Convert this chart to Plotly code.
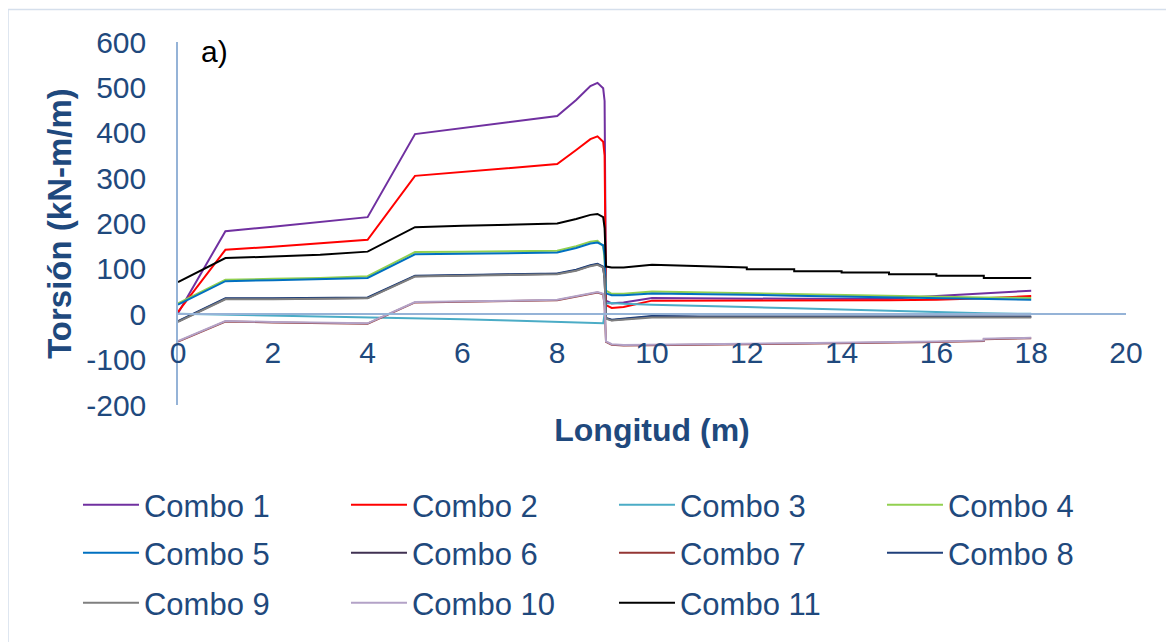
import plotly.graph_objects as go

# Longitud (m) sample positions (duplicates = jumps at supports)
X = [0, 1, 2, 3, 4, 5, 6, 7, 8, 8.4, 8.7, 8.85, 8.97, 9.0, 9.03, 9.15, 9.4, 10, 11,
     12, 12, 13, 13, 14, 14, 15, 15, 16, 16, 17, 17, 18]

combo1 = [2, 183, 193, 203, 214, 397, 410, 423, 437, 472, 503, 510, 498, 470, 30, 24, 26, 36, 35,
          35, 35, 34, 34, 34, 34, 34, 34, 40, 40, 46, 46, 52]
combo2 = [5, 142, 149, 156, 164, 305, 314, 322, 331, 362, 386, 392, 380, 350, 20, 14, 16, 30, 30,
          30, 30, 30, 30, 30, 30, 31, 31, 32, 32, 35, 35, 40]
combo3 = [1, -1, -2, -4, -6, -8, -11, -14, -17, -19, -20, -21, -20, 0, 24, 25, 23, 21, 19,
          16, 16, 13, 13, 10, 10, 7, 7, 4, 4, 2, 2, 1]
combo4 = [24, 76, 78, 80, 84, 137, 138, 139, 140, 150, 160, 162, 150, 120, 52, 45, 45, 50, 48,
          46, 46, 44, 44, 42, 42, 40, 40, 38, 38, 37, 37, 36]
combo5 = [21, 73, 75, 77, 80, 132, 133, 135, 136, 146, 156, 158, 152, 130, 46, 42, 42, 46, 45,
          43, 43, 41, 41, 39, 39, 37, 37, 35, 35, 34, 34, 32]
combo6 = [-16, 34, 34, 35, 36, 84, 86, 87, 89, 97, 107, 110, 104, 79, -9, -13, -11, -5, -6,
          -6, -6, -6, -6, -6, -6, -6, -6, -6, -6, -6, -6, -6]
combo7 = [-60, -16, -18, -20, -21, 26, 27, 29, 31, 39, 46, 48, 44, 19, -61, -67, -69, -68, -67,
          -66, -66, -65, -65, -64, -64, -62, -62, -61, -61, -59, -55, -53]
combo8 = [-15, 35, 35, 36, 37, 85, 87, 88, 90, 98, 108, 111, 105, 80, -8, -12, -10, -4, -5,
          -5, -5, -5, -5, -5, -5, -5, -5, -5, -5, -5, -5, -5]
combo9 = [-17, 33, 33, 34, 35, 83, 85, 86, 88, 96, 106, 109, 103, 78, -10, -14, -12, -7, -7,
          -7, -7, -7, -7, -7, -7, -7, -7, -7, -7, -7, -7, -7]
combo10 = [-59, -15, -17, -19, -20, 27, 28, 30, 32, 40, 47, 49, 45, 20, -60, -66, -68, -67, -66,
           -65, -65, -64, -64, -63, -63, -61, -61, -60, -60, -58, -54, -52]
combo11 = [71, 124, 127, 131, 138, 192, 195, 197, 200, 210, 219, 221, 214, 190, 105, 103, 103, 109, 106,
           103, 99, 99, 95, 95, 92, 92, 88, 88, 85, 85, 80, 80]

names = ["Combo 1", "Combo 2", "Combo 3", "Combo 4", "Combo 5", "Combo 6",
         "Combo 7", "Combo 8", "Combo 9", "Combo 10", "Combo 11"]
series = [combo1, combo2, combo3, combo4, combo5, combo6, combo7, combo8, combo9, combo10, combo11]
colors = ["#7030A0", "#FF0000", "#4BACC6", "#92D050", "#0070C0", "#403152",
          "#943634", "#1F3F7A", "#7F7F7F", "#B3A2C7", "#000000"]

y_ticks = [-200, -100, 0, 100, 200, 300, 400, 500, 600]
y_labels = ["-200", "-100", "0", "100", "200", "300", "400", "500", "600"]
x_ticks = [0, 2, 4, 6, 8, 10, 12, 14, 16, 18, 20]

TXT = "#1F497D"
FONT = "Arial, Liberation Sans, sans-serif"
AXIS = "#95B3D7"
BORDER = "#D5DFEC"

legend_rows = ["legend", "legend2", "legend3"]
legend_y = [-0.2755, -0.4077, -0.5455]  # row centres, paper units below the plot

fig = go.Figure()
for i, (n, s, c) in enumerate(zip(names, series, colors)):
    fig.add_trace(go.Scatter(x=X, y=s, name=n, mode="lines",
                             line=dict(color=c, width=2),
                             legend=legend_rows[i // 4]))

legend_common = dict(orientation="h", xref="paper", yref="paper",
                     xanchor="left", yanchor="middle", x=-0.1055,
                     entrywidth=197, entrywidthmode="pixels",
                     font=dict(size=31, color=TXT, family=FONT),
                     itemwidth=56, traceorder="normal", bgcolor="rgba(0,0,0,0)")

layout_legends = {}
for key, ly in zip(legend_rows, legend_y):
    d = dict(legend_common)
    d["y"] = ly
    layout_legends[key] = d

fig.update_layout(
    width=1166, height=634, autosize=False,
    paper_bgcolor="white", plot_bgcolor="white",
    margin=dict(l=170, r=48, t=34, b=237, autoexpand=False),
    font=dict(family=FONT, color=TXT, size=30),
    showlegend=True,
    xaxis=dict(range=[0, 20], tickvals=x_ticks, showgrid=False, zeroline=False,
               showline=True, linecolor=AXIS, linewidth=1.5,
               anchor="free", position=0.25, ticks="",
               ticklabelstandoff=12,
               tickfont=dict(size=30, color=TXT, family=FONT),
               title=dict(text="<b>Longitud (m)</b>", standoff=50,
                          font=dict(size=32, color=TXT, family=FONT))),
    yaxis=dict(range=[-200, 600], tickvals=y_ticks, ticktext=y_labels,
               showgrid=False, zeroline=False,
               showline=True, linecolor=AXIS, linewidth=1.5, ticks="",
               ticklabelstandoff=24, domain=[0, 1],
               tickfont=dict(size=30, color=TXT, family=FONT),
               title=dict(text="<b>Torsión (kN-m/m)</b>", standoff=5,
                          font=dict(size=33, color=TXT, family=FONT))),
    annotations=[dict(text="a)", xref="paper", yref="paper", x=0.038, y=0.9725,
                      xanchor="center", yanchor="middle", showarrow=False,
                      font=dict(size=30, color="black", family=FONT))],
    shapes=[dict(type="line", xref="paper", yref="paper", x0=-0.1793, x1=-0.1793, y0=-0.7, y1=1.0895,
                 line=dict(color=BORDER, width=1.5)),
            dict(type="line", xref="paper", yref="paper", x0=-0.1793, x1=1.0475, y0=1.0895, y1=1.0895,
                 line=dict(color=BORDER, width=1.5)),
            dict(type="line", xref="paper", yref="paper", x0=1.0475, x1=1.0475, y0=-0.7, y1=1.0895,
                 line=dict(color=BORDER, width=1.5))],
    **layout_legends,
)

fig.write_html("out.html")
